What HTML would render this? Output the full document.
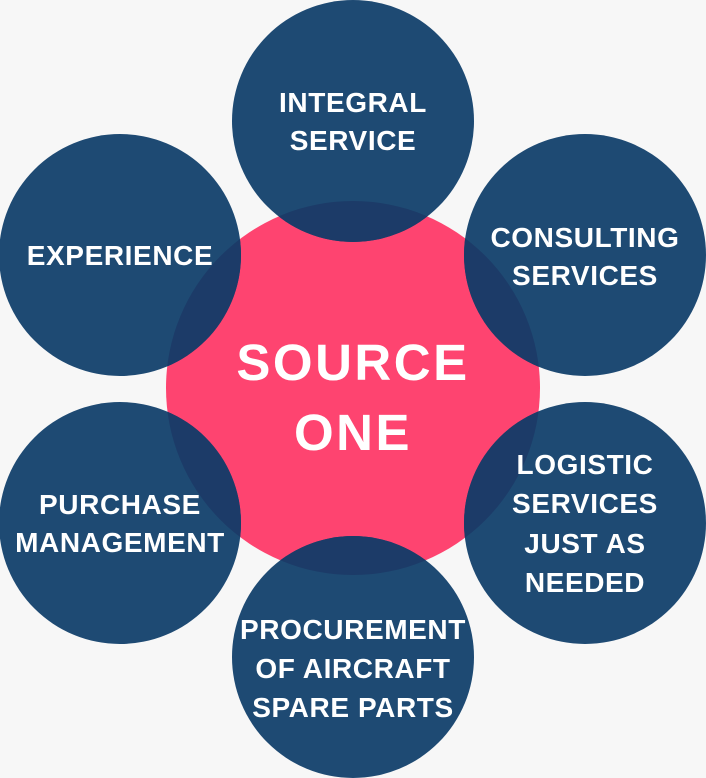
<!DOCTYPE html>
<html><head><style>
html,body{margin:0;padding:0;background:#f7f7f7;}
svg{display:block;}
text{font-family:"Liberation Sans",sans-serif;fill:#fff;font-weight:bold;text-anchor:middle;}
</style></head><body>
<svg width="706" height="778" viewBox="0 0 706 778">
<defs><clipPath id="pc"><circle cx="353" cy="388" r="187"/></clipPath></defs>
<rect width="706" height="778" fill="#f7f7f7"/>
<circle cx="353" cy="388" r="187" fill="#fe4470"/>
<g fill="#1e4a73">
<circle cx="353" cy="121" r="121"/>
<circle cx="585" cy="255" r="121"/>
<circle cx="120" cy="255" r="121"/>
<circle cx="120" cy="523" r="121"/>
<circle cx="585" cy="523" r="121"/>
<circle cx="353" cy="657" r="121"/>
</g>
<g fill="#1c3b68" clip-path="url(#pc)">
<circle cx="353" cy="121" r="121"/>
<circle cx="585" cy="255" r="121"/>
<circle cx="120" cy="255" r="121"/>
<circle cx="120" cy="523" r="121"/>
<circle cx="585" cy="523" r="121"/>
<circle cx="353" cy="657" r="121"/>
</g>
<g font-size="28" letter-spacing="0.6">
<text x="353" y="112">INTEGRAL</text>
<text x="353" y="150">SERVICE</text>
<text x="585" y="247">CONSULTING</text>
<text x="585" y="285">SERVICES</text>
<text x="120" y="265">EXPERIENCE</text>
<text x="120" y="514">PURCHASE</text>
<text x="120" y="552">MANAGEMENT</text>
<text x="585" y="474">LOGISTIC</text>
<text x="585" y="513">SERVICES</text>
<text x="585" y="553">JUST AS</text>
<text x="585" y="592">NEEDED</text>
<text x="353" y="639">PROCUREMENT</text>
<text x="353" y="678">OF AIRCRAFT</text>
<text x="353" y="717">SPARE PARTS</text>
</g>
<g font-size="51" letter-spacing="2.5">
<text x="353" y="380">SOURCE</text>
<text x="353" y="450">ONE</text>
</g>
</svg>
</body></html>
